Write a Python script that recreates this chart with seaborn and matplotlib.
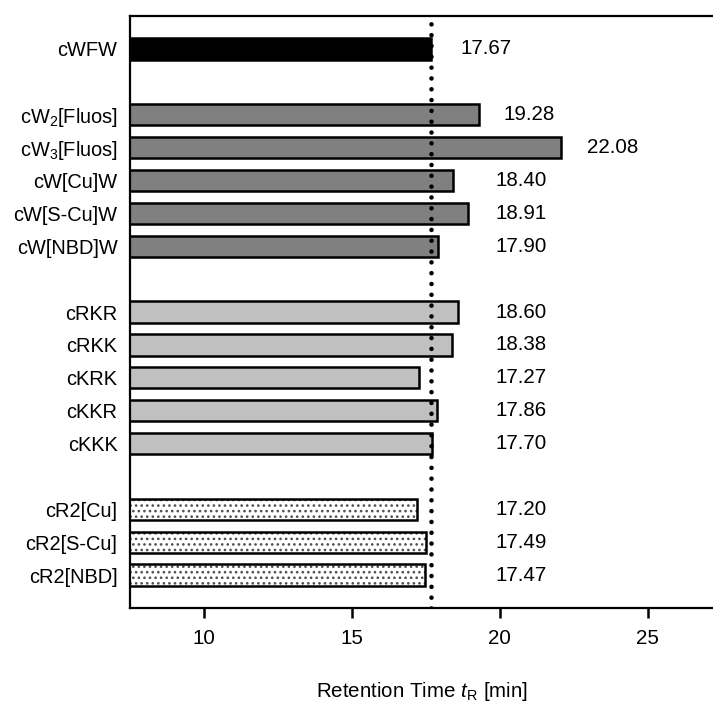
import pandas as pd
import matplotlib
matplotlib.use('Agg')
import matplotlib.pyplot as plt
import seaborn as sns
from matplotlib.patches import Rectangle

# Retention times (min) per peptide group
ref_names = ['cWFW']
ref_rt = [17.67]

w_names = ['cW$_2$[Fluos]', 'cW$_3$[Fluos]', 'cW[Cu]W', 'cW[S-Cu]W', 'cW[NBD]W']
w_rt = [19.28, 22.08, 18.40, 18.91, 17.90]

k_names = ['cRKR', 'cRKK', 'cKRK', 'cKKR', 'cKKK']
k_rt = [18.60, 18.38, 17.27, 17.86, 17.70]

r2_names = ['cR2[Cu]', 'cR2[S-Cu]', 'cR2[NBD]']
r2_rt = [17.20, 17.49, 17.47]

x_ticks = [10, 15, 20, 25]

# build one table, leaving an empty slot between groups
rows = []
slot = 0
for group, names, rts in [('ref', ref_names, ref_rt), ('w', w_names, w_rt),
                          ('k', k_names, k_rt), ('r2', r2_names, r2_rt)]:
    for n, v in zip(names, rts):
        rows.append({'name': n, 'rt': v, 'slot': slot, 'group': group})
        slot += 1
    slot += 1
data = pd.DataFrame(rows)

sns.set_style('white')
plt.rcParams['font.family'] = ['Liberation Sans', 'DejaVu Sans']
plt.rcParams['mathtext.fontset'] = 'custom'
plt.rcParams['mathtext.rm'] = 'Liberation Sans'
plt.rcParams['mathtext.it'] = 'Liberation Sans:italic'
plt.rcParams['hatch.linewidth'] = 1.1
for k in ['text.color', 'axes.labelcolor', 'xtick.color', 'ytick.color']:
    plt.rcParams[k] = 'black'

fs = 14.8
palette = {'ref': '#000000', 'w': '#808080', 'k': '#c0c0c0', 'r2': '#ffffff'}

fig = plt.figure(figsize=(7.13, 7.04), dpi=100)
ax = fig.add_axes([130 / 713, 1 - 608 / 704, 583 / 713, 592 / 704])

sns.barplot(data=data, x='rt', y='slot', hue='group', palette=palette, orient='h',
            native_scale=True, width=0.65, dodge=False, edgecolor='black',
            linewidth=1.8, legend=False, saturation=1, ax=ax)

# dotted pattern for the cR2 group: gray dots, then a black outline on top
r2_slots = set(data.loc[data['group'] == 'r2', 'slot'])
for p in list(ax.patches):
    cy = p.get_y() + p.get_height() / 2
    if round(cy) in r2_slots:
        p.set_edgecolor('#505050')
        p.set_linewidth(0)
        p.set_hatch('...')
        ax.add_patch(Rectangle(p.get_xy(), p.get_width(), p.get_height(),
                               fill=False, edgecolor='black', linewidth=1.8,
                               zorder=p.get_zorder() + 0.1))

# reference line at cWFW retention time
ax.axvline(ref_rt[0], color='black', linewidth=3.3, linestyle=(0, (0.01, 2.35)),
           dash_capstyle='round', zorder=5)

# value labels
for _, r in data.iterrows():
    if r['group'] == 'ref':
        lx = r['rt'] + 1.0
    else:
        lx = max(r['rt'] + 0.85, 19.85)
    ax.text(lx, r['slot'], f"{r['rt']:.2f}", va='center', ha='left', fontsize=fs)

ax.set_xlim(7.5, 27.2)
ax.set_ylim(17, -1)
ax.set_xticks(x_ticks)
ax.set_yticks(data['slot'])
ax.set_yticklabels(data['name'])
ax.tick_params(axis='y', left=False, length=0, pad=9, labelsize=14.4)
ax.tick_params(axis='x', bottom=True, length=7, width=1.8, direction='out', pad=8, labelsize=fs)
ax.set_xlabel('Retention Time $t_\\mathrm{R}$ [min]', fontsize=fs, labelpad=23)
ax.set_ylabel('')

for s in ['left', 'top', 'bottom']:
    ax.spines[s].set_linewidth(1.6)
    ax.spines[s].set_color('black')
ax.spines['right'].set_visible(False)

plt.savefig('out.png', dpi=100)
plt.close()
